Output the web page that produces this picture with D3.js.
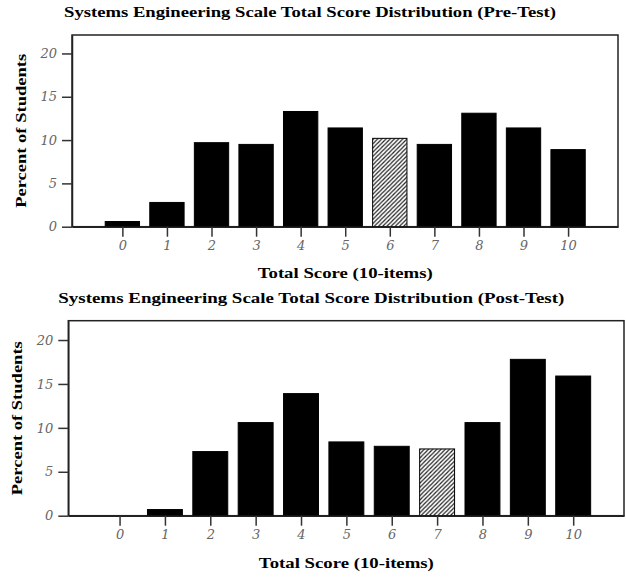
<!DOCTYPE html>
<html>
<head>
<meta charset="utf-8">
<script src="https://cdn.jsdelivr.net/npm/d3@7"></script>
<style>
  body { margin: 0; background: #fff; }
  svg { display: block; }
</style>
</head>
<body>
<div id="chart"></div>
<script>
var scores = [0, 1, 2, 3, 4, 5, 6, 7, 8, 9, 10];
var preTest = [0.6, 2.8, 9.7, 9.5, 13.3, 11.4, 10.2, 9.5, 13.1, 11.4, 8.9];
var postTest = [0, 0.7, 7.3, 10.6, 13.9, 8.4, 7.9, 7.6, 10.6, 17.8, 15.9];
var yTicks = [0, 5, 10, 15, 20];
var preMedian = 6;
var postMedian = 7;
var titles = [
  "Systems Engineering Scale Total Score Distribution (Pre-Test)",
  "Systems Engineering Scale Total Score Distribution (Post-Test)"
];
var xTitle = "Total Score (10-items)";
var yTitle = "Percent of Students";

var width = 626;
var height = 578;
var serif = "'Liberation Serif', serif";

var svg = d3.select("#chart").append("svg")
    .attr("width", width).attr("height", height);

var pat = svg.append("defs").append("pattern")
    .attr("id", "hatch")
    .attr("patternUnits", "userSpaceOnUse")
    .attr("width", 4.2).attr("height", 4.2);
pat.append("rect").attr("width", 4.2).attr("height", 4.2).attr("fill", "#fff");
pat.append("path")
    .attr("d", "M0,4.2 L4.2,0 M-1,1 L1,-1 M3.2,5.2 L5.2,3.2")
    .attr("stroke", "#222").attr("stroke-width", 1.2);

// one panel per test
var panels = [
  { values: preTest, median: preMedian, title: titles[0],
    left: 72, right: 618, top: 35, bottom: 226.7, yMax: 22.13,
    titleX: 64, titleY: 17, titleLen: 492,
    yTitleX: 26, xTitleY: 278 },
  { values: postTest, median: postMedian, title: titles[1],
    left: 68.3, right: 624, top: 320.7, bottom: 515.7, yMax: 22.2,
    titleX: 58.3, titleY: 302.5, titleLen: 506,
    yTitleX: 22, xTitleY: 568 }
];

panels.forEach(function (p) {
  var g = svg.append("g");

  var x = d3.scaleLinear().domain([-1.13, 11.12]).range([p.left, p.right]);
  var y = d3.scaleLinear().domain([0, p.yMax]).range([p.bottom, p.top]);
  var barW = x(0.77) - x(0);

  g.append("rect")
      .attr("x", p.left).attr("y", p.top)
      .attr("width", p.right - p.left).attr("height", p.bottom - p.top)
      .attr("fill", "none").attr("stroke", "#222").attr("stroke-width", 1.5);

  g.selectAll(".bar").data(scores).enter().append("rect")
      .attr("class", "bar")
      .attr("x", function (d) { return x(d) - barW / 2; })
      .attr("y", function (d, i) { return y(p.values[i]); })
      .attr("width", barW)
      .attr("height", function (d, i) { return p.bottom - y(p.values[i]); })
      .attr("fill", function (d) { return d === p.median ? "url(#hatch)" : "#000"; })
      .attr("stroke", "#000")
      .attr("stroke-width", function (d, i) { return p.values[i] > 0 ? 1 : 0; });

  var xAxis = g.append("g")
      .attr("transform", "translate(0," + p.bottom + ")")
      .call(d3.axisBottom(x).tickValues(scores).tickSizeInner(10).tickSizeOuter(0).tickPadding(4));
  var yAxis = g.append("g")
      .attr("transform", "translate(" + p.left + ",0)")
      .call(d3.axisLeft(y).tickValues(yTicks).tickSizeInner(10).tickSizeOuter(0).tickPadding(5));

  [xAxis, yAxis].forEach(function (a) {
    a.select(".domain").attr("stroke", "#222").attr("stroke-width", 1.5);
    a.selectAll(".tick line").attr("stroke", "#333").attr("stroke-width", 1.5);
    a.selectAll(".tick text")
        .attr("fill", "#666")
        .style("font-family", "'DejaVu Serif', serif")
        .style("font-style", "italic")
        .style("font-size", "13px");
  });

  g.append("text")
      .attr("x", p.titleX).attr("y", p.titleY)
      .attr("textLength", p.titleLen).attr("lengthAdjust", "spacingAndGlyphs")
      .style("font-family", serif).style("font-weight", "bold").style("font-size", "15px")
      .text(p.title);

  g.append("text")
      .attr("x", (x(0) + x(10)) / 2).attr("y", p.xTitleY)
      .attr("text-anchor", "middle")
      .attr("textLength", 175).attr("lengthAdjust", "spacingAndGlyphs")
      .style("font-family", serif).style("font-weight", "bold").style("font-size", "15px")
      .text(xTitle);

  g.append("text")
      .attr("transform", "translate(" + p.yTitleX + "," + (p.top + p.bottom) / 2 + ") rotate(-90)")
      .attr("text-anchor", "middle")
      .attr("textLength", 154).attr("lengthAdjust", "spacingAndGlyphs")
      .style("font-family", serif).style("font-weight", "bold").style("font-size", "15px")
      .text(yTitle);
});
</script>
</body>
</html>
